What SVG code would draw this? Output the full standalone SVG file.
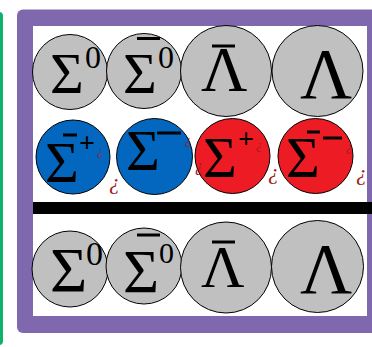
<svg xmlns="http://www.w3.org/2000/svg" width="372" height="347" viewBox="0 0 372 347">
<style>
.g{fill:#c0c0c0;stroke:#000;stroke-width:1}
.b{fill:#0467bf;stroke:#000;stroke-width:1}
.r{fill:#ed1c24;stroke:#000;stroke-width:1}
.t{font-family:"Liberation Serif","Times New Roman",serif;fill:#000}
.p{font-family:"Liberation Serif","Times New Roman",serif;font-weight:bold;fill:#000}
.q{font-family:"Liberation Serif","Times New Roman",serif;font-style:italic;fill:#9e1a1a}
.bar{stroke:#000;stroke-width:3}
</style>
<rect x="-10" y="12" width="13" height="333" rx="4" fill="#0db36b"/>
<rect x="17" y="9.5" width="365" height="323.5" rx="6" fill="#8068ae"/>
<rect x="33" y="26" width="334" height="290" fill="#fff"/>
<rect x="33" y="202" width="339" height="12" fill="#000"/>
<g id="connectors"></g>
<g id="r1c1"><circle class="g" cx="70" cy="72" r="37.5"/><text class="t" x="50" y="93" font-size="58">Σ</text><text class="t" x="85" y="68" font-size="32">0</text></g>
<g id="r1c2"><circle class="g" cx="144" cy="71" r="37.5"/><text class="t" x="123" y="93" font-size="58">Σ</text><text class="t" x="158" y="68" font-size="32">0</text><line class="bar" x1="137" y1="38.5" x2="160" y2="38.5"/></g>
<g id="r1c3"><circle class="g" cx="226" cy="71" r="45.5"/><text class="t" x="201" y="91" font-size="64">Λ</text><line class="bar" x1="212" y1="46" x2="235" y2="46"/></g>
<g id="r1c4"><circle class="g" cx="317.5" cy="71" r="45.5"/><text class="t" x="300" y="98" font-size="72">Λ</text></g>
<g id="r2c1"><circle class="b" cx="73" cy="157" r="37"/><text class="t" x="45" y="182" font-size="58">Σ</text><line class="bar" x1="63" y1="135" x2="77" y2="135"/><text class="p" x="79" y="152" font-size="28">+</text><text class="q" x="97" y="155" font-size="12">¿</text></g>
<text class="q" x="109" y="189" font-size="22">¿</text>
<g id="r2c2"><circle class="b" cx="154.5" cy="156.5" r="38"/><text class="t" x="126" y="170" font-size="58">Σ</text><line class="bar" x1="157" y1="133" x2="181" y2="133"/><text class="q" x="185" y="144" font-size="12">¿</text></g>
<g id="r2c3"><circle class="r" cx="232.5" cy="156" r="37.5"/><text class="t" x="203" y="177" font-size="58">Σ</text><text class="p" x="238" y="148" font-size="28">+</text><text class="q" x="256" y="149" font-size="12">¿</text><text class="q" x="195" y="171" font-size="16">¿</text></g>
<text class="q" x="268" y="179" font-size="22">¿</text>
<g id="r2c4"><circle class="r" cx="315.5" cy="156" r="37.5"/><text class="t" x="286" y="177" font-size="58">Σ</text><line class="bar" x1="307" y1="132" x2="320" y2="132"/><line class="bar" x1="323" y1="138" x2="342" y2="138"/><text class="q" x="346" y="151" font-size="12">¿</text></g>
<text class="q" x="356" y="180" font-size="22">¿</text>
<g id="r3c1"><circle class="g" cx="70" cy="269" r="38"/><text class="t" x="50" y="292" font-size="64">Σ</text><text class="t" x="86" y="265" font-size="34">0</text></g>
<g id="r3c2"><circle class="g" cx="144" cy="266" r="38"/><text class="t" x="123" y="292" font-size="62">Σ</text><text class="t" x="159" y="263" font-size="30">0</text><line class="bar" x1="137" y1="235" x2="160" y2="235"/></g>
<g id="r3c3"><circle class="g" cx="226" cy="267.5" r="45.5"/><text class="t" x="201" y="287" font-size="60">Λ</text><line class="bar" x1="212" y1="242" x2="235" y2="242"/></g>
<g id="r3c4"><circle class="g" cx="317.5" cy="266.5" r="46"/><text class="t" x="300" y="293" font-size="72">Λ</text></g>
</svg>
